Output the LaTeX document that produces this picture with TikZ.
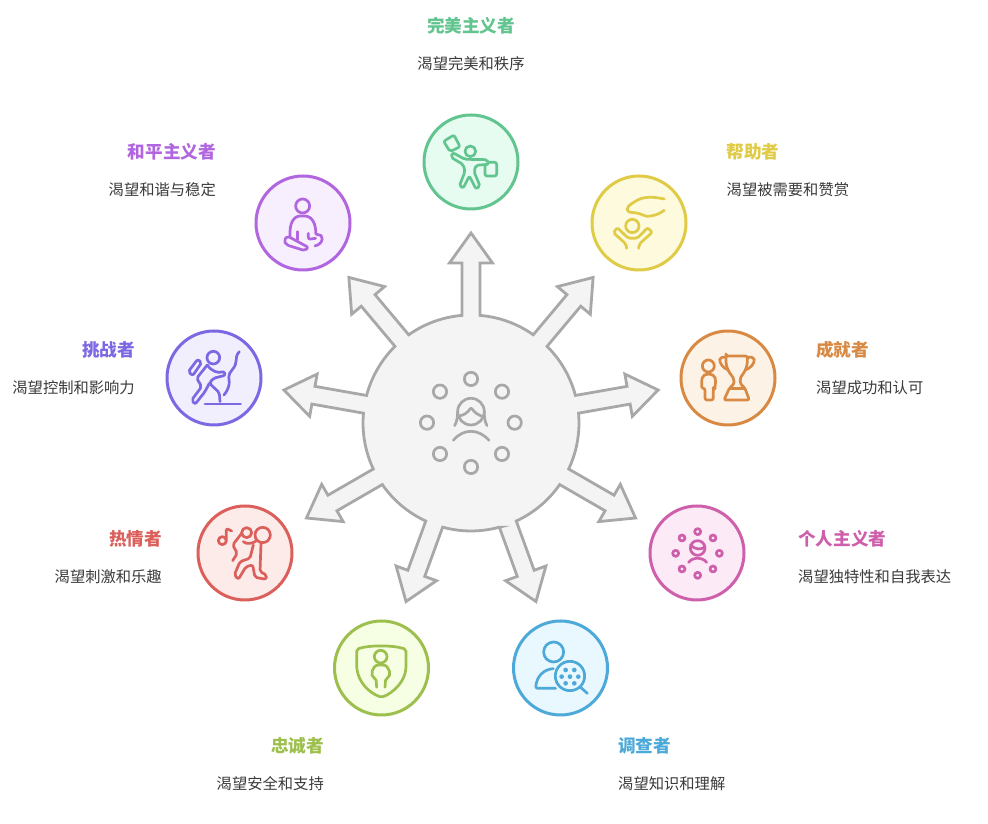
\documentclass[tikz,border=0pt]{standalone}
\usepackage{fontspec}
\setmainfont{Noto Sans CJK SC}
\usetikzlibrary{positioning}
\definecolor{hubline}{HTML}{A8A8A8}
\definecolor{hubfill}{HTML}{F4F4F4}
\definecolor{descink}{HTML}{3A3A3A}
\definecolor{perfectline}{HTML}{62C48E}
\definecolor{perfectfill}{HTML}{E6FCF1}
\definecolor{helperline}{HTML}{E0CB47}
\definecolor{helperfill}{HTML}{FDFADD}
\definecolor{achieverline}{HTML}{D88A45}
\definecolor{achieverfill}{HTML}{FCF2E6}
\definecolor{selfline}{HTML}{CE5FAB}
\definecolor{selffill}{HTML}{FCEBF7}
\definecolor{seekerline}{HTML}{4DAAD8}
\definecolor{seekerfill}{HTML}{E9F7FE}
\definecolor{loyalline}{HTML}{9DBF4D}
\definecolor{loyalfill}{HTML}{F6FFE3}
\definecolor{funline}{HTML}{DB5F5B}
\definecolor{funfill}{HTML}{FCEBE9}
\definecolor{braveline}{HTML}{7C68E2}
\definecolor{bravefill}{HTML}{F1EFFE}
\definecolor{peaceline}{HTML}{B165DF}
\definecolor{peacefill}{HTML}{F7EFFE}
\tikzset {
  % round badge behind each icon
  badge/.style 2 args = {
    circle,
    draw = #1,
    fill = #2,
    line width = 3pt,
    minimum size = 94pt,
    inner sep = 0
  },
  % big grey hub with its spikes
  hubshape/.style = {
    draw = hubline,
    fill = hubfill,
    line width = 2.8pt,
    line join = miter
  },
  % icons are drawn at 1/3 scale, y going down
  icon/.style = {
    x = .3333pt,
    y = -.3333pt,
    line width = 2.7pt,
    rounded corners = 2pt,
    line cap = round,
    line join = round
  },
  ttl/.style = {
    inner sep = 0,
    font = \fontsize{17.6}{20}\selectfont\bfseries
  },
  desc/.style = {
    inner sep = 0,
    text = descink,
    font = \fontsize{15.3}{18}\selectfont
  }
}
\begin{document}
\begin{tikzpicture}[x=1pt,y=1pt]
    \useasboundingbox (0,0) rectangle (988,824);

    % hub
    \coordinate (hub) at (471,401);
    \draw[hubshape,shift={(hub)}] ([rotate=-70]107.6,-9)
      \foreach \a in {-70,-30,...,250} {
        -- ([rotate=\a]160,-9) -- ([rotate=\a]160,-21.5) -- ([rotate=\a]190,0)
        -- ([rotate=\a]160,21.5) -- ([rotate=\a]160,9) -- ([rotate=\a]107.6,9)
        arc[start angle=\a+4.78,end angle=\a+35.22,radius=108]
      } -- cycle;
    \begin{scope}[shift={(360,514)},icon,color=hubline]
      \foreach \p in {(333,207),(426,245),(464,338),(426,432),(333,471),(240,432),(201,338),(240,245)}
        \draw \p circle[radius=20];
      \draw (333,305) circle[radius=40];
      \draw (284,347) .. controls (292,332) and (293,318) .. (293,305);
      \draw (381,347) .. controls (373,332) and (373,318) .. (373,305);
      \draw (298,318) .. controls (315,315) and (325,305) .. (333,292) .. controls (342,305) and (352,315) .. (370,320);
      \draw (280,391) .. controls (310,355) and (355,355) .. (387,391);
    \end{scope}

    % badges
    \node[badge={perfectline}{perfectfill}] (perfect) at (471,662) {};
    \node[badge={helperline}{helperfill}] (helper) at (639,601) {};
    \node[badge={achieverline}{achieverfill}] (achiever) at (728,446) {};
    \node[badge={selfline}{selffill}] (self) at (697,271) {};
    \node[badge={seekerline}{seekerfill}] (seeker) at (560.5,156) {};
    \node[badge={loyalline}{loyalfill}] (loyal) at (381.5,156) {};
    \node[badge={funline}{funfill}] (fun) at (245,271) {};
    \node[badge={braveline}{bravefill}] (brave) at (214,446) {};
    \node[badge={peaceline}{peacefill}] (peace) at (303,601) {};

    % icons
    \begin{scope}[shift={(400,724)},icon,color=perfectline]
      \draw (211,154) circle[radius=16];
      \draw (131,124) -- (162,105) -- (180,140) -- (150,155) -- cycle;
      \draw (158,158) -- (195,178) -- (262,179) -- (266,193) -- (228,196) -- (222,215) -- (240,258) -- (228,267) -- (208,228) -- (190,264) -- (178,258) -- (195,215) -- (190,194) -- (153,172) -- cycle;
      \draw (255,195) -- (255,228) -- (290,228) -- (290,187) -- (268,187);
    \end{scope}
    \begin{scope}[shift={(400,724)},icon,color=helperline]
      \draw (697,378) circle[radius=20];
      \draw (793,297) .. controls (760,290) and (730,288) .. (700,308) .. controls (680,320) and (675,335) .. (700,338) .. controls (725,340) and (735,352) .. (755,347) .. controls (770,345) and (785,337) .. (793,331);
      \draw (680,445) -- (678,432) -- (640,398) -- (652,383) -- (685,415) -- (712,415) -- (743,383) -- (757,397) -- (718,432) -- (716,445);
    \end{scope}
    \begin{scope}[shift={(670,504)},icon,color=achieverline]
      \draw (115,138) circle[radius=18];
      \draw (95,205) -- (95,180) .. controls (100,158) and (132,158) .. (137,180) -- (135,205) -- (130,205) -- (130,240) -- (105,240) -- (105,205) -- cycle;
      \draw (168,108) -- (232,108) .. controls (234,150) and (215,165) .. (210,178) .. controls (212,195) and (220,200) .. (225,205) -- (238,240) -- (162,240) -- (178,205) .. controls (185,198) and (192,195) .. (192,178) .. controls (185,165) and (166,150) .. (168,108) -- cycle;
      \draw (178,205) -- (225,205);
      \draw (168,112) -- (150,112) .. controls (148,130) and (160,145) .. (175,150);
      \draw (232,112) -- (252,112) .. controls (254,130) and (242,145) .. (226,150);
    \end{scope}
    \begin{scope}[shift={(640,329)},icon,color=selfline]
      \foreach \p in {(173,110),(219,129),(238,175),(219,222),(173,241),(126,222),(107,175),(126,129)}
        \draw \p circle[radius=9];
      \draw (173,159) circle[radius=22];
      \draw (152,150) .. controls (165,165) and (185,165) .. (195,155);
      \draw (146,202) .. controls (160,185) and (185,185) .. (200,202);
    \end{scope}
    \begin{scope}[shift={(325,214)},icon,color=seekerline]
      \draw (686,126) circle[radius=30];
      \draw (685,176) .. controls (655,178) and (635,200) .. (632,235) -- (692,235);
      \draw (735,198) circle[radius=44];
      \draw (768,233) -- (787,250);
      \foreach \p in {(735,200),(710,200),(760,200),(722,180),(748,180),(722,220),(748,220)}
        \fill \p circle[radius=7];
    \end{scope}
    \begin{scope}[shift={(325,214)},icon,color=loyalline]
      \draw (95,118) .. controls (130,105) and (205,105) .. (243,118) -- (243,170) .. controls (240,215) and (205,248) .. (170,262) .. controls (130,248) and (100,215) .. (95,170) -- cycle;
      \draw (167,140) circle[radius=19];
      \draw (155,232) -- (153,205) .. controls (135,200) and (140,165) .. (167,165) .. controls (195,165) and (200,200) .. (182,205) -- (180,232);
    \end{scope}
    \begin{scope}[shift={(190,324)},icon,color=funline]
      \draw (97,122) circle[radius=12];
      \draw (109,118) -- (109,85) -- (125,93);
      \draw (218,105) circle[radius=23];
      \draw (170,98) circle[radius=15];
      \draw (155,100) -- (128,135) -- (142,160) -- (128,182);
      \draw (160,125) .. controls (170,135) and (190,130) .. (200,122);
      \draw (190,135) -- (180,175) -- (150,185) -- (133,225) -- (145,238) -- (168,200) -- (188,195) -- (195,232) -- (228,238) -- (230,225) -- (210,215) -- (213,130);
    \end{scope}
    \begin{scope}[shift={(150,654)},icon,color=braveline]
      \draw (190,563) circle[radius=19];
      \draw (115,605) -- (143,568) -- (155,578) -- (128,617) -- cycle;
      \draw (172,585) .. controls (185,605) and (205,610) .. (222,604) -- (226,616) -- (190,625) -- (178,640) -- (208,668) -- (210,695);
      \draw (172,585) -- (140,625) -- (155,650) -- (125,690) -- (135,703) -- (165,665) -- (178,640);
      \draw (165,702) -- (272,702);
      \draw (268,545) .. controls (250,565) and (268,575) .. (242,605) .. controls (230,625) and (250,640) .. (222,675);
    \end{scope}
    \begin{scope}[shift={(150,654)},icon,color=peaceline]
      \draw (458,108) circle[radius=21];
      \draw (420,200) .. controls (418,160) and (430,138) .. (458,138) .. controls (488,138) and (498,165) .. (497,195) .. controls (520,190) and (525,220) .. (495,228);
      \draw (402,212) -- (412,198) -- (475,232) -- (465,242) -- (410,225) -- cycle;
      \draw (442,185) -- (442,210);
      \draw (475,190) -- (475,208) -- (497,205);
    \end{scope}

    % labels
    \node[ttl,text=perfectline] (perfect-title) at (471,798) {完美主义者};
    \node[desc] (perfect-desc) [below=37.5pt of perfect-title.center,anchor=center] {渴望完美和秩序};
    \node[ttl,text=helperline,anchor=west] (helper-title) at (726.5,672) {帮助者};
    \node[desc] (helper-desc) [below=37.5pt of helper-title.west,anchor=west] {渴望被需要和赞赏};
    \node[ttl,text=achieverline,anchor=west] (achiever-title) at (816,474) {成就者};
    \node[desc] (achiever-desc) [below=37.5pt of achiever-title.west,anchor=west] {渴望成功和认可};
    \node[ttl,text=selfline,anchor=west] (self-title) at (798,285) {个人主义者};
    \node[desc] (self-desc) [below=37.5pt of self-title.west,anchor=west] {渴望独特性和自我表达};
    \node[ttl,text=seekerline,anchor=west] (seeker-title) at (618,78) {调查者};
    \node[desc] (seeker-desc) [below=37.5pt of seeker-title.west,anchor=west] {渴望知识和理解};
    \node[ttl,text=loyalline,anchor=east] (loyal-title) at (324,78) {忠诚者};
    \node[desc] (loyal-desc) [below=37.5pt of loyal-title.east,anchor=east] {渴望安全和支持};
    \node[ttl,text=funline,anchor=east] (fun-title) at (162,285) {热情者};
    \node[desc] (fun-desc) [below=37.5pt of fun-title.east,anchor=east] {渴望刺激和乐趣};
    \node[ttl,text=braveline,anchor=east] (brave-title) at (135,474) {挑战者};
    \node[desc] (brave-desc) [below=37.5pt of brave-title.east,anchor=east] {渴望控制和影响力};
    \node[ttl,text=peaceline,anchor=east] (peace-title) at (216,672) {和平主义者};
    \node[desc] (peace-desc) [below=37.5pt of peace-title.east,anchor=east] {渴望和谐与稳定};
\end{tikzpicture}
\end{document}
